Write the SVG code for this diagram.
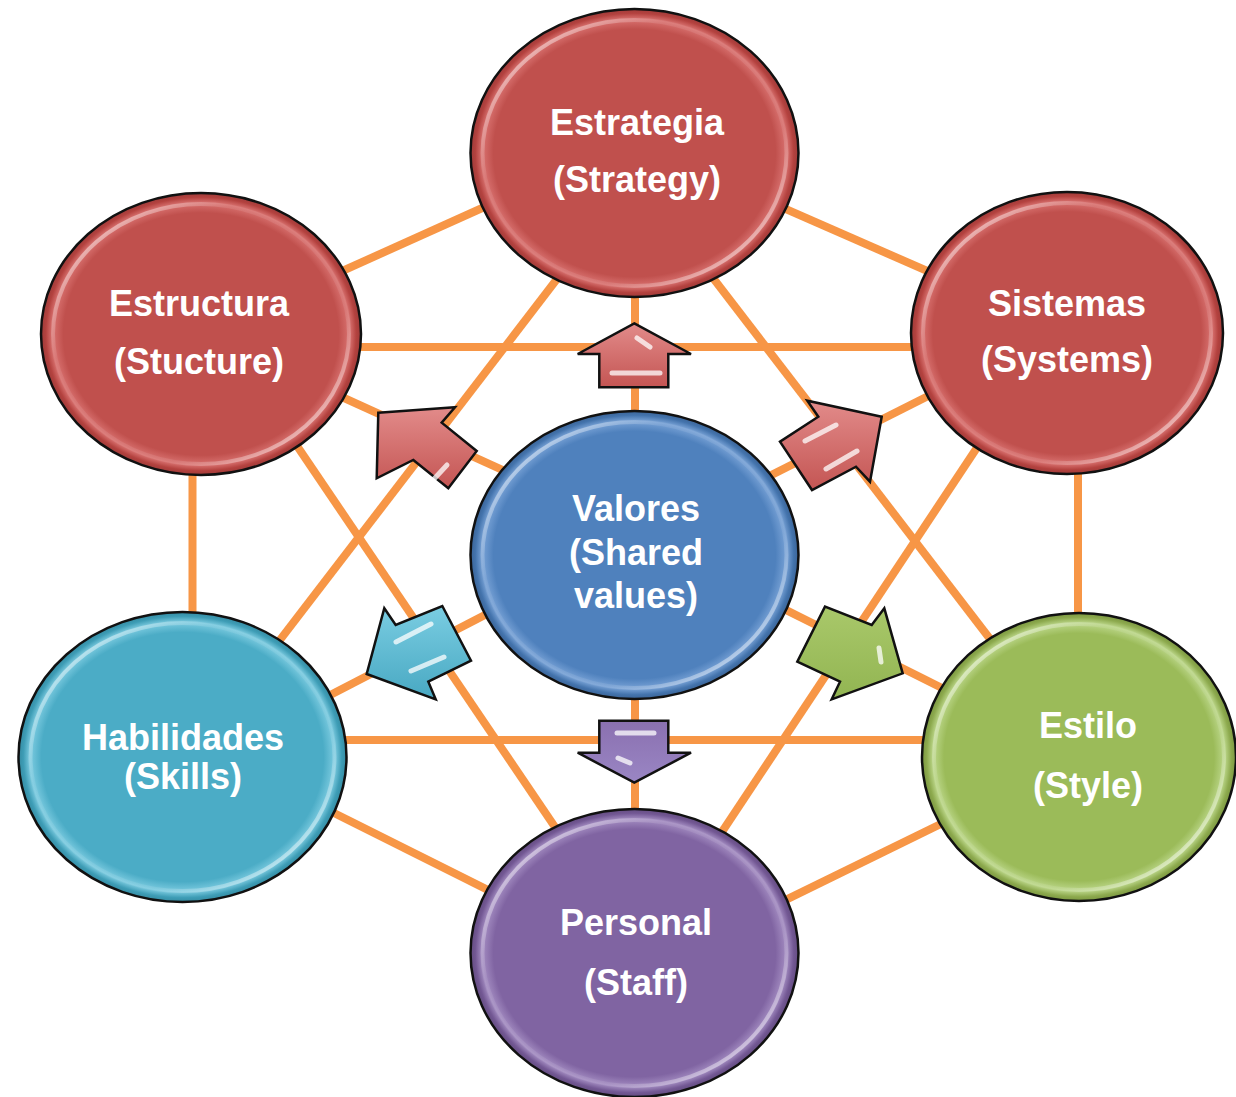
<svg xmlns="http://www.w3.org/2000/svg" width="1236" height="1097" viewBox="0 0 1236 1097">
<defs>
<style>
.ln{stroke:#F79646;stroke-width:8;stroke-linecap:butt;fill:none}
.node{stroke:#111;stroke-width:2.5}
.rim{fill:none;stroke-width:4;opacity:0.85}
.lbl{font-family:"Liberation Sans",Arial,sans-serif;font-weight:bold;font-size:36px;fill:#FFFFFF;text-anchor:middle}
.arr{stroke:#111;stroke-width:2.5;stroke-linejoin:miter}
.hl{stroke:#FFFFFF;stroke-width:5;stroke-linecap:round;opacity:0.75;fill:none}
</style>
<radialGradient id="gRed" cx="0.5" cy="0.5" r="0.5">
<stop offset="0" stop-color="#C0504D"/><stop offset="0.86" stop-color="#C0504D"/><stop offset="0.93" stop-color="#D97270"/><stop offset="0.97" stop-color="#B4423F"/><stop offset="1" stop-color="#9E3B39"/>
</radialGradient>
<radialGradient id="gBlue" cx="0.5" cy="0.5" r="0.5">
<stop offset="0" stop-color="#4F81BD"/><stop offset="0.86" stop-color="#4F81BD"/><stop offset="0.93" stop-color="#78A2D6"/><stop offset="0.97" stop-color="#4474AD"/><stop offset="1" stop-color="#3A6396"/>
</radialGradient>
<radialGradient id="gCyan" cx="0.5" cy="0.5" r="0.5">
<stop offset="0" stop-color="#4BACC6"/><stop offset="0.86" stop-color="#4BACC6"/><stop offset="0.93" stop-color="#7CCBE0"/><stop offset="0.97" stop-color="#3E9DB6"/><stop offset="1" stop-color="#358BA2"/>
</radialGradient>
<radialGradient id="gPurple" cx="0.5" cy="0.5" r="0.5">
<stop offset="0" stop-color="#8064A2"/><stop offset="0.86" stop-color="#8064A2"/><stop offset="0.93" stop-color="#A48DC2"/><stop offset="0.97" stop-color="#735894"/><stop offset="1" stop-color="#634C80"/>
</radialGradient>
<radialGradient id="gGreen" cx="0.5" cy="0.5" r="0.5">
<stop offset="0" stop-color="#9BBB59"/><stop offset="0.86" stop-color="#9BBB59"/><stop offset="0.93" stop-color="#BCD78A"/><stop offset="0.97" stop-color="#8DAA4E"/><stop offset="1" stop-color="#7A9640"/>
</radialGradient>
<linearGradient id="gRim" x1="0" y1="0" x2="1" y2="1">
<stop offset="0" stop-color="#FFFFFF" stop-opacity="0.9"/><stop offset="0.3" stop-color="#FFFFFF" stop-opacity="0.1"/><stop offset="0.7" stop-color="#FFFFFF" stop-opacity="0.1"/><stop offset="1" stop-color="#FFFFFF" stop-opacity="0.9"/>
</linearGradient>
<linearGradient id="aRed" x1="0" y1="0" x2="0" y2="1">
<stop offset="0" stop-color="#E28B8A"/><stop offset="1" stop-color="#C45553"/>
</linearGradient>
<linearGradient id="aCyan" x1="0" y1="0" x2="0" y2="1">
<stop offset="0" stop-color="#7ACDE2"/><stop offset="1" stop-color="#48A8C2"/>
</linearGradient>
<linearGradient id="aGreen" x1="0" y1="0" x2="0" y2="1">
<stop offset="0" stop-color="#A9C86A"/><stop offset="1" stop-color="#92B552"/>
</linearGradient>
<linearGradient id="aPurple" x1="0" y1="0" x2="0" y2="1">
<stop offset="0" stop-color="#8A70B0"/><stop offset="1" stop-color="#9A86C4"/>
</linearGradient>
</defs>
<rect x="0" y="0" width="1236" height="1097" fill="#FFFFFF"/>

<g id="connectors">
<line class="ln" x1="250" y1="347" x2="1000" y2="347"/>
<line class="ln" x1="250" y1="740" x2="1000" y2="740"/>
<line class="ln" x1="192.5" y1="420" x2="192.5" y2="680"/>
<line class="ln" x1="1078" y1="420" x2="1078" y2="680"/>
<line class="ln" x1="635" y1="250" x2="635" y2="880"/>
<line class="ln" x1="300" y1="290" x2="560" y2="173"/>
<line class="ln" x1="710" y1="176" x2="980" y2="294"/>
<line class="ln" x1="280" y1="786" x2="560" y2="926"/>
<line class="ln" x1="710" y1="937" x2="1000" y2="795"/>
<line class="ln" x1="580" y1="249" x2="250" y2="679"/>
<line class="ln" x1="270" y1="406" x2="580" y2="864"/>
<line class="ln" x1="690" y1="248" x2="1020" y2="678"/>
<line class="ln" x1="1000" y1="413" x2="700" y2="865"/>
<line class="ln" x1="300" y1="378" x2="560" y2="496"/>
<line class="ln" x1="700" y1="511" x2="960" y2="380"/>
<line class="ln" x1="280" y1="721" x2="560" y2="576"/>
<line class="ln" x1="700" y1="567" x2="1000" y2="717"/>
</g>

<g id="estrategia">
<ellipse class="node" cx="634.5" cy="153" rx="164" ry="144" fill="url(#gRed)"/>
<ellipse class="rim" cx="634.5" cy="153" rx="152" ry="133" stroke="url(#gRim)"/>
<text class="lbl" x="637" y="135">Estrategia</text>
<text class="lbl" x="637" y="192">(Strategy)</text>
</g>

<g id="estructura">
<ellipse class="node" cx="201" cy="334" rx="160" ry="141" fill="url(#gRed)"/>
<ellipse class="rim" cx="201" cy="334" rx="148" ry="130" stroke="url(#gRim)"/>
<text class="lbl" x="199" y="316">Estructura</text>
<text class="lbl" x="199" y="374">(Stucture)</text>
</g>

<g id="sistemas">
<ellipse class="node" cx="1067" cy="333" rx="156" ry="141" fill="url(#gRed)"/>
<ellipse class="rim" cx="1067" cy="333" rx="144" ry="130" stroke="url(#gRim)"/>
<text class="lbl" x="1067" y="316">Sistemas</text>
<text class="lbl" x="1067" y="372">(Systems)</text>
</g>

<g id="valores">
<ellipse class="node" cx="634.5" cy="555" rx="164" ry="144" fill="url(#gBlue)"/>
<ellipse class="rim" cx="634.5" cy="555" rx="152" ry="133" stroke="url(#gRim)"/>
<text class="lbl" x="636" y="521">Valores</text>
<text class="lbl" x="636" y="565">(Shared</text>
<text class="lbl" x="636" y="608">values)</text>
</g>

<g id="habilidades">
<ellipse class="node" cx="182.5" cy="757" rx="164" ry="145" fill="url(#gCyan)"/>
<ellipse class="rim" cx="182.5" cy="757" rx="152" ry="134" stroke="url(#gRim)"/>
<text class="lbl" x="183" y="750">Habilidades</text>
<text class="lbl" x="183" y="789">(Skills)</text>
</g>

<g id="estilo">
<ellipse class="node" cx="1079" cy="757" rx="157" ry="144" fill="url(#gGreen)"/>
<ellipse class="rim" cx="1079" cy="757" rx="145" ry="133" stroke="url(#gRim)"/>
<text class="lbl" x="1088" y="738">Estilo</text>
<text class="lbl" x="1088" y="798">(Style)</text>
</g>

<g id="personal">
<ellipse class="node" cx="634.5" cy="953" rx="164" ry="144" fill="url(#gPurple)"/>
<ellipse class="rim" cx="634.5" cy="953" rx="152" ry="133" stroke="url(#gRim)"/>
<text class="lbl" x="636" y="935">Personal</text>
<text class="lbl" x="636" y="995">(Staff)</text>
</g>

<g id="arrows">
<g id="arrow-up">
<polygon class="arr" fill="url(#aRed)" points="634.3,323.3 691,354 668.3,354 668.3,387.3 599.3,387.3 599.3,354 577.7,354"/>
<line class="hl" x1="612" y1="373" x2="660" y2="373"/>
<line class="hl" x1="637" y1="338" x2="650" y2="347"/>
</g>
<g id="arrow-upleft">
<polygon class="arr" fill="url(#aRed)" points="378.3,412.7 455,407.3 441.7,422.7 476.7,451 448.3,488.3 413.3,460 376.7,478.3"/>
<line class="hl" x1="434" y1="479" x2="447" y2="465"/>
</g>
<g id="arrow-upright">
<polygon class="arr" fill="url(#aRed)" points="881.7,416.7 870,481.7 856,466.7 812,490 780,441.7 818.3,416.7 807.3,400.7"/>
<line class="hl" x1="805" y1="441" x2="836" y2="425"/>
<line class="hl" x1="826" y1="469" x2="857" y2="451"/>
</g>
<g id="arrow-downleft">
<polygon class="arr" fill="url(#aCyan)" points="366.7,674 435.7,699.3 428.3,681.7 471,660.7 442.3,606 395.7,625 384.3,608.3"/>
<line class="hl" x1="396" y1="642" x2="431" y2="624"/>
<line class="hl" x1="411" y1="671" x2="444" y2="657"/>
</g>
<g id="arrow-downright">
<polygon class="arr" fill="url(#aGreen)" points="902.7,673.3 884.3,608.3 871.7,625 825,606.7 797.3,661.7 840,681.7 831.7,699.3"/>
<line class="hl" x1="879" y1="648" x2="881" y2="662"/>
</g>
<g id="arrow-down">
<polygon class="arr" fill="url(#aPurple)" points="599.3,720.7 668.3,720.7 668.3,752.7 691,752.7 634.3,782.7 577.7,752.7 599.3,752.7"/>
<line class="hl" x1="617" y1="733" x2="654" y2="733"/>
<line class="hl" x1="618" y1="758" x2="630" y2="763"/>
</g>
</g>
</svg>
